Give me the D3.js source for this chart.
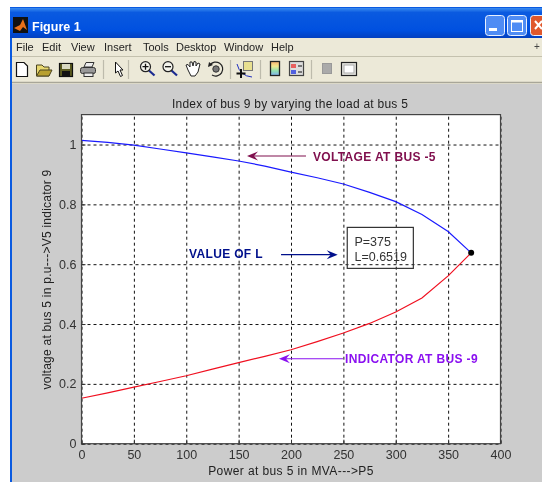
<!DOCTYPE html>
<html>
<head>
<meta charset="utf-8">
<script src="https://cdn.jsdelivr.net/npm/d3@7"></script>
<style>
  html, body { margin: 0; padding: 0; background: #fff; }
  svg { display: block; filter: blur(0.35px); }
  text { font-family: "Liberation Sans", Arial, sans-serif; }
  .axis text { font-size: 12.5px; fill: #333; }
  .menu text { font-size: 11px; fill: #222; }
</style>
</head>
<body>
<div class="chart"></div>
<script>
// values
var powerMva = [0, 25, 50, 75, 100, 125, 150, 175, 200, 225, 250, 275, 300, 325, 350, 372];
var voltageBus5 = [1.014, 1.007, 0.998, 0.985, 0.972, 0.959, 0.945, 0.928, 0.908, 0.889, 0.868, 0.84, 0.809, 0.766, 0.709, 0.638];
var indicatorBus9 = [0.152, 0.17, 0.189, 0.208, 0.227, 0.249, 0.271, 0.292, 0.314, 0.341, 0.37, 0.402, 0.44, 0.487, 0.561, 0.638];
var xTicks = [0, 50, 100, 150, 200, 250, 300, 350, 400];
var yTicks = [0, 0.2, 0.4, 0.6, 0.8, 1];
var menuNames = ["File", "Edit", "View", "Insert", "Tools", "Desktop", "Window", "Help"];
var menuLeft = [16, 42, 71, 104, 143, 176, 224, 271];

var fig_width = 542, fig_height = 482;
var margin = { top: 114.6, right: 41.5, bottom: 38.3, left: 81.5 },
  chart_width = fig_width - margin.left - margin.right,
  chart_height = fig_height - margin.top - margin.bottom;

var root = d3
  .select(".chart")
  .append("svg")
  .attr("width", fig_width)
  .attr("height", fig_height);

// ---- window chrome ----
var defs = root.append("defs");
var titleGrad = defs.append("linearGradient").attr("id", "titleGrad").attr("x2", 0).attr("y2", 1);
titleGrad.append("stop").attr("offset", 0).attr("stop-color", "#3a8cf0");
titleGrad.append("stop").attr("offset", 0.15).attr("stop-color", "#0a5ae0");
titleGrad.append("stop").attr("offset", 0.75).attr("stop-color", "#0050e0");
titleGrad.append("stop").attr("offset", 1).attr("stop-color", "#0340c0");
var cbGrad = defs.append("linearGradient").attr("id", "cbGrad").attr("x2", 0).attr("y2", 1);
["#f8b070", "#f4e890", "#90e0b0", "#80b0f0"].forEach(function (c, i) {
  cbGrad.append("stop").attr("offset", i / 3).attr("stop-color", c);
});

root.append("rect").attr("x", 10).attr("y", 7).attr("width", 532).attr("height", 475).attr("fill", "#0a5ae0");
root.append("rect").attr("x", 10).attr("y", 8).attr("width", 532).attr("height", 30).attr("fill", "url(#titleGrad)");
root.append("rect").attr("x", 12).attr("y", 38).attr("width", 530).attr("height", 46).attr("fill", "#ece9d8");
root.append("rect").attr("x", 12).attr("y", 84).attr("width", 530).attr("height", 398).attr("fill", "#cccccc");
root.append("line").attr("x1", 12).attr("x2", 542).attr("y1", 56.5).attr("y2", 56.5).attr("stroke", "#c4c1ae");
root.append("line").attr("x1", 12).attr("x2", 542).attr("y1", 82.5).attr("y2", 82.5).attr("stroke", "#a8a698").attr("stroke-width", 1.5);

// title bar
root.append("rect").attr("x", 13).attr("y", 17).attr("width", 15).attr("height", 16).attr("fill", "#111");
root.append("path").attr("d", "M14 28 L20 25 L23 19 L27 30 L23 27 L20 31 Z").attr("fill", "#e8701a");
root.append("text").attr("x", 32).attr("y", 31).attr("fill", "#fff")
  .attr("font-size", "12.5px").attr("font-weight", "bold").text("Figure 1");

function winButton(x, fill) {
  root.append("rect").attr("x", x + 0.5).attr("y", 15.5).attr("width", 19).attr("height", 20)
    .attr("rx", 3).attr("fill", fill).attr("stroke", "#e8f0ff");
}
winButton(485, "#4f8cf4");
winButton(507, "#4f8cf4");
winButton(530, "#e0582c");
root.append("rect").attr("x", 489).attr("y", 28).attr("width", 8).attr("height", 3).attr("fill", "#fff");
root.append("rect").attr("x", 511.5).attr("y", 20.5).attr("width", 11).attr("height", 11).attr("fill", "none").attr("stroke", "#fff");
root.append("rect").attr("x", 511).attr("y", 20).attr("width", 12).attr("height", 2.5).attr("fill", "#fff");
root.append("path").attr("d", "M535 21 L542 29 M542 21 L535 29").attr("stroke", "#fff").attr("stroke-width", 2);

// menu bar
root.append("g").attr("class", "menu")
  .selectAll("text")
  .data(menuNames)
  .enter()
  .append("text")
  .attr("x", function (d, i) { return menuLeft[i]; })
  .attr("y", 51)
  .text(function (d) { return d; });
root.append("text").attr("x", 534).attr("y", 50).attr("font-size", "10px").attr("fill", "#444").text("+");

// toolbar icons
var tools = root.append("g");
[103.5, 128.5, 230.5, 260.5, 311.5].forEach(function (x) {
  tools.append("line").attr("x1", x).attr("x2", x).attr("y1", 60).attr("y2", 79).attr("stroke", "#bdbbac").attr("stroke-width", 1.2);
});
// new
tools.append("path").attr("d", "M16.5 62.5 H24 L27.5 66 V76.5 H16.5 Z").attr("fill", "#fff").attr("stroke", "#111").attr("stroke-width", 1.2);
// open
tools.append("path").attr("d", "M36.5 76 V65 H42 L44 67 H49 V76 Z").attr("fill", "#e8d870").attr("stroke", "#4a4420");
tools.append("path").attr("d", "M36.5 76 L40 70 H52 L49 76 Z").attr("fill", "#b8a030").attr("stroke", "#4a4420");
// save
tools.append("rect").attr("x", 59.5).attr("y", 63.5).attr("width", 13).attr("height", 13).attr("fill", "#5a5a20").attr("stroke", "#111").attr("stroke-width", 1.2);
tools.append("rect").attr("x", 62).attr("y", 64).attr("width", 8).attr("height", 5).attr("fill", "#d8d8c0");
tools.append("rect").attr("x", 62).attr("y", 71).attr("width", 8).attr("height", 5).attr("fill", "#111");
// print
tools.append("path").attr("d", "M84 67 L86 62.5 H94 L92 67 Z").attr("fill", "#eee").attr("stroke", "#333");
tools.append("rect").attr("x", 80.5).attr("y", 67.5).attr("width", 15).attr("height", 6).attr("rx", 2).attr("fill", "#999").attr("stroke", "#333");
tools.append("rect").attr("x", 84).attr("y", 73).attr("width", 9).attr("height", 3.5).attr("fill", "#eee").attr("stroke", "#333");
// pointer
tools.append("path").attr("d", "M115.5 62 V73 L118 71 L120.5 76.5 L122.5 75.5 L120 70 H123 Z").attr("fill", "#fff").attr("stroke", "#111");

function magnifier(cx, sign) {
  tools.append("line").attr("x1", cx + 3.5).attr("y1", 70.5).attr("x2", cx + 9).attr("y2", 75.5).attr("stroke", "#1a2a90").attr("stroke-width", 2.2);
  tools.append("circle").attr("cx", cx).attr("cy", 66.7).attr("r", 5).attr("fill", "#f4f4ec").attr("stroke", "#222").attr("stroke-width", 1.2);
  tools.append("path").attr("d", sign ? "M" + (cx - 3) + " 66.7 H" + (cx + 3) + " M" + cx + " 63.7 V69.7" : "M" + (cx - 3) + " 66.7 H" + (cx + 3))
    .attr("stroke", "#111").attr("stroke-width", 1.3);
}
magnifier(145.5, true);
magnifier(168, false);
// hand
tools.append("path").attr("d", "M188 70 L186 65 L188 64.5 L190 67 L190 62 L192 62 L193 66 L194 61.5 L196 62 L196 66 L198 63 L200 64 L198 72 L195 76 H191 Z")
  .attr("fill", "#fff").attr("stroke", "#222");
// rotate
tools.append("path").attr("d", "M210 65 A7 7 0 1 1 212 75").attr("fill", "none").attr("stroke", "#222").attr("stroke-width", 1.2);
tools.append("circle").attr("cx", 216).attr("cy", 69).attr("r", 3.2).attr("fill", "#777").attr("stroke", "#333");
tools.append("path").attr("d", "M209 62 L213 65 L208 67 Z").attr("fill", "#222");
// data cursor
tools.append("rect").attr("x", 243.5).attr("y", 61.5).attr("width", 9).attr("height", 9).attr("fill", "#e8e090").attr("stroke", "#777");
tools.append("path").attr("d", "M237 64 Q240 76 252 77").attr("fill", "none").attr("stroke", "#2030c0");
tools.append("path").attr("d", "M241 69 V78 M236.5 73.5 H245.5").attr("stroke", "#111").attr("stroke-width", 2);
// colorbar
tools.append("rect").attr("x", 270.5).attr("y", 61.5).attr("width", 9).attr("height", 14).attr("fill", "url(#cbGrad)").attr("stroke", "#222").attr("stroke-width", 1.3);
// legend
tools.append("rect").attr("x", 289.5).attr("y", 61.5).attr("width", 14).attr("height", 14).attr("fill", "#ddd").attr("stroke", "#444").attr("stroke-width", 1.2);
tools.append("rect").attr("x", 291).attr("y", 64).attr("width", 5).attr("height", 4).attr("fill", "#e86060");
tools.append("rect").attr("x", 291).attr("y", 70).attr("width", 5).attr("height", 4).attr("fill", "#5060e0");
tools.append("path").attr("d", "M298 66 H302 M298 72 H302").attr("stroke", "#555").attr("stroke-width", 1.4);
// plot tools
tools.append("rect").attr("x", 322.5).attr("y", 63.5).attr("width", 9).attr("height", 10).attr("fill", "#aaa").attr("stroke", "#999");
tools.append("rect").attr("x", 341.5).attr("y", 62.5).attr("width", 15).attr("height", 13).attr("fill", "#e6e6e0").attr("stroke", "#222").attr("stroke-width", 1.2);
tools.append("rect").attr("x", 344).attr("y", 65).attr("width", 10).attr("height", 8).attr("fill", "#fff").attr("stroke", "#aaa");

// ---- the axes ----
var svg = root
  .append("g")
  .attr("transform", "translate(" + margin.left + "," + margin.top + ")");

var xScale = d3.scaleLinear().domain([0, 400]).range([0, chart_width]);
var yScale = d3.scaleLinear().domain([0, 1.1]).range([chart_height, 0]);

svg.append("rect").attr("width", chart_width).attr("height", chart_height).attr("fill", "#fff");

// gridlines
function make_x_gridlines() {
  return d3.axisBottom(xScale).tickValues(xTicks).tickSize(-chart_height).tickFormat("");
}
function make_y_gridlines() {
  return d3.axisLeft(yScale).tickValues(yTicks).tickSize(-chart_width).tickFormat("");
}
svg.append("g").attr("class", "grid").attr("transform", "translate(0," + chart_height + ")").call(make_x_gridlines());
svg.append("g").attr("class", "grid").call(make_y_gridlines());
svg.selectAll(".grid .domain").remove();
svg.selectAll(".grid line").attr("stroke", "#111").attr("stroke-dasharray", "3,3");

var lineGen = d3
  .line()
  .x(function (d) { return xScale(d[0]); })
  .y(function (d) { return yScale(d[1]); });

svg.append("path")
  .attr("d", lineGen(d3.zip(powerMva, voltageBus5)))
  .attr("fill", "none").attr("stroke", "#1a1aff").attr("stroke-width", 1.2);
svg.append("path")
  .attr("d", lineGen(d3.zip(powerMva, indicatorBus9)))
  .attr("fill", "none").attr("stroke", "#f01020").attr("stroke-width", 1.2);

// operating point where both curves meet
svg.append("path")
  .attr("transform", "translate(" + xScale(powerMva[15]) + "," + yScale(voltageBus5[15]) + ")")
  .attr("d", d3.symbol().type(d3.symbolCircle).size(28))
  .attr("fill", "#000");

// annotations, in axis units
function arrow(fromP, toP, v, color) {
  var x0 = xScale(fromP), x1 = xScale(toP), y = yScale(v), dir = x1 > x0 ? 1 : -1;
  svg.append("line").attr("x1", x0).attr("x2", x1 - dir * 3).attr("y1", y).attr("y2", y)
    .attr("stroke", color).attr("stroke-width", 1.2);
  svg.append("path")
    .attr("d", "M" + x1 + " " + y + " L" + (x1 - dir * 11) + " " + (y - 4.5) +
      " L" + (x1 - dir * 7) + " " + y + " L" + (x1 - dir * 11) + " " + (y + 4.5) + " Z")
    .attr("fill", color);
}
function note(p, v, label, color) {
  svg.append("text")
    .attr("x", xScale(p)).attr("y", yScale(v))
    .attr("font-size", "12px").attr("font-weight", "bold").attr("letter-spacing", "0.35px")
    .attr("fill", color).text(label);
}
arrow(214.3, 158, 0.9616, "#80104e");
note(221, 0.945, "VOLTAGE AT BUS -5", "#80104e");
arrow(190.5, 244.6, 0.6317, "#00108c");
note(102.6, 0.6207, "VALUE OF L", "#00108c");
arrow(249.6, 188.5, 0.284, "#8a10f0");
note(251.6, 0.27, "INDICATOR AT BUS -9", "#8a10f0");

// P / L box
svg.append("rect")
  .attr("x", xScale(253.7)).attr("y", yScale(0.723))
  .attr("width", xScale(316.8) - xScale(253.7)).attr("height", yScale(0.586) - yScale(0.723))
  .attr("fill", "none").attr("stroke", "#333").attr("stroke-width", 1.2);
svg.append("text").attr("x", xScale(260.6)).attr("y", yScale(0.661)).attr("font-size", "12.5px").attr("fill", "#333").text("P=375");
svg.append("text").attr("x", xScale(260.6)).attr("y", yScale(0.611)).attr("font-size", "12.5px").attr("fill", "#333").text("L=0.6519");

// frame and tick labels
svg.append("rect").attr("width", chart_width).attr("height", chart_height)
  .attr("fill", "none").attr("stroke", "#444").attr("stroke-width", 1.2);

var xAxis = d3.axisBottom(xScale).tickValues(xTicks).tickSizeInner(-4).tickSizeOuter(0).tickPadding(6);
var yAxis = d3.axisLeft(yScale).tickValues(yTicks).tickFormat(d3.format("~g")).tickSizeInner(-4).tickSizeOuter(0).tickPadding(5);
svg.append("g").attr("class", "axis axis--x").attr("transform", "translate(0," + chart_height + ")").call(xAxis);
svg.append("g").attr("class", "axis axis--y").call(yAxis);
svg.selectAll(".axis .domain").remove();
svg.selectAll(".axis line").attr("stroke", "#333");

// labels
root.append("text").attr("x", 290).attr("y", 108).attr("text-anchor", "middle")
  .attr("font-size", "12px").attr("letter-spacing", "0.25px").attr("fill", "#222")
  .text("Index of bus 9 by varying the load at bus 5");
root.append("text").attr("x", 291).attr("y", 475).attr("text-anchor", "middle")
  .attr("font-size", "12px").attr("letter-spacing", "0.4px").attr("fill", "#222")
  .text("Power at bus 5 in MVA--->P5");
root.append("text").attr("transform", "translate(51,279.5) rotate(-90)").attr("text-anchor", "middle")
  .attr("font-size", "12px").attr("letter-spacing", "0.25px").attr("fill", "#222")
  .text("voltage at bus 5 in p.u--->V5 indicator 9");
</script>
</body>
</html>
